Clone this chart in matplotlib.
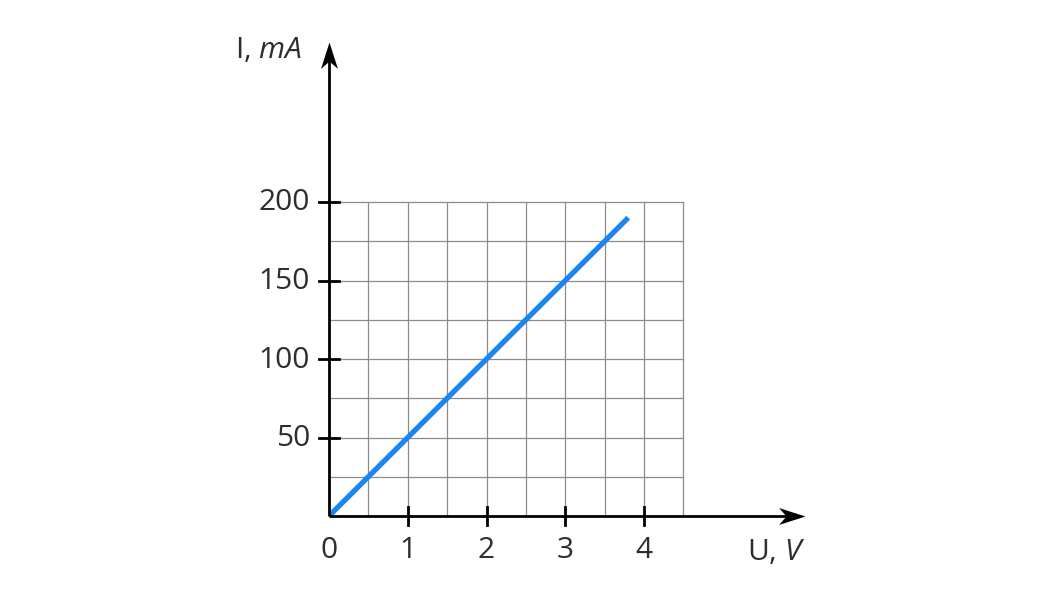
import matplotlib
matplotlib.use("Agg")
import matplotlib.pyplot as plt
import numpy as np
from matplotlib.path import Path

plt.rcParams['font.family'] = ['Open Sans', 'DejaVu Sans']
plt.rcParams['mathtext.fontset'] = 'custom'
plt.rcParams['mathtext.rm'] = 'Open Sans'
plt.rcParams['mathtext.it'] = 'Open Sans:italic'

# data
U = [0.0, 3.8]
I = [0.0, 190.0]
x_ticks = [1, 2, 3, 4]
x_ticklabels = ['1', '2', '3', '4']
y_ticks = [50, 100, 150, 200]
y_ticklabels = ['50', '100', '150', '200']
x_grid_max = 4.5
y_grid_max = 200
x_label = 'U, $\\mathit{V}$'
y_label = 'I, $\\mathit{mA}$'

W, H = 1044, 598
fig = plt.figure(figsize=(W / 100, H / 100), dpi=100)
x0, y0, x1, y1 = 329, 516, 805, 45
ax = fig.add_axes([x0 / W, (H - y0) / H, (x1 - x0) / W, (y0 - y1) / H])
xmax = 6.044
ymax = 300
ax.set_xlim(0, xmax)
ax.set_ylim(0, ymax)
ax.axis('off')

text_color = '#2e2e2e'
grid_color = '#8c8c8c'
fs = 21.5

# grid
for gx in np.arange(0.5, x_grid_max + 0.01, 0.5):
    ax.plot([gx, gx], [0, y_grid_max], color=grid_color, lw=0.9, zorder=1)
for gy in np.arange(25, y_grid_max + 0.01, 25):
    ax.plot([0, x_grid_max], [gy, gy], color=grid_color, lw=0.9, zorder=1)

# axes lines
ax.plot([0, xmax - 0.15], [0, 0], color='black', lw=2.0, zorder=3, solid_capstyle='butt', clip_on=False)
ax.plot([0, 0], [0, ymax - 7], color='black', lw=2.0, zorder=3, solid_capstyle='butt', clip_on=False)

stealth = Path([(0, 0), (-1, 0.32), (-0.72, 0), (-1, -0.32), (0, 0)],
               [Path.MOVETO, Path.LINETO, Path.LINETO, Path.LINETO, Path.CLOSEPOLY])
stealth_up = Path([(0, 0), (0.32, -1), (0, -0.72), (-0.32, -1), (0, 0)],
                  [Path.MOVETO, Path.LINETO, Path.LINETO, Path.LINETO, Path.CLOSEPOLY])
ax.plot([xmax], [0], marker=stealth, markersize=38, color='black', mew=0, clip_on=False, zorder=4)
ax.plot([0], [ymax + 2], marker=stealth_up, markersize=38, color='black', mew=0, clip_on=False, zorder=4)

# ticks
px_x = (x1 - x0) / xmax
px_y = (y0 - y1) / ymax
tx = 9 / px_y
ty = 10 / px_x
for t in x_ticks:
    ax.plot([t, t], [-tx, tx], color='black', lw=2.0, zorder=3, clip_on=False)
for t in y_ticks:
    ax.plot([-ty, ty], [t, t], color='black', lw=2.0, zorder=3, clip_on=False)

for t, lab in zip(x_ticks, x_ticklabels):
    ax.text(t, -35 / px_y, lab, ha='center', va='center', fontsize=fs, color=text_color)
ax.text(0, -35 / px_y, '0', ha='center', va='center', fontsize=fs, color=text_color)
for t, lab in zip(y_ticks, y_ticklabels):
    ax.text(-19 / px_x, t - 1 / px_y, lab, ha='right', va='center', fontsize=fs, color=text_color)

ax.text(xmax, -37 / px_y, x_label, ha='right', va='center', fontsize=fs, color=text_color)
ax.text(-27 / px_x, ymax - 6 / px_y, y_label, ha='right', va='center', fontsize=fs, color=text_color)

# data line
ax.plot(U, I, color='#1a86f0', lw=3.8, zorder=2, solid_capstyle='butt')

fig.savefig('out.png', dpi=100)
